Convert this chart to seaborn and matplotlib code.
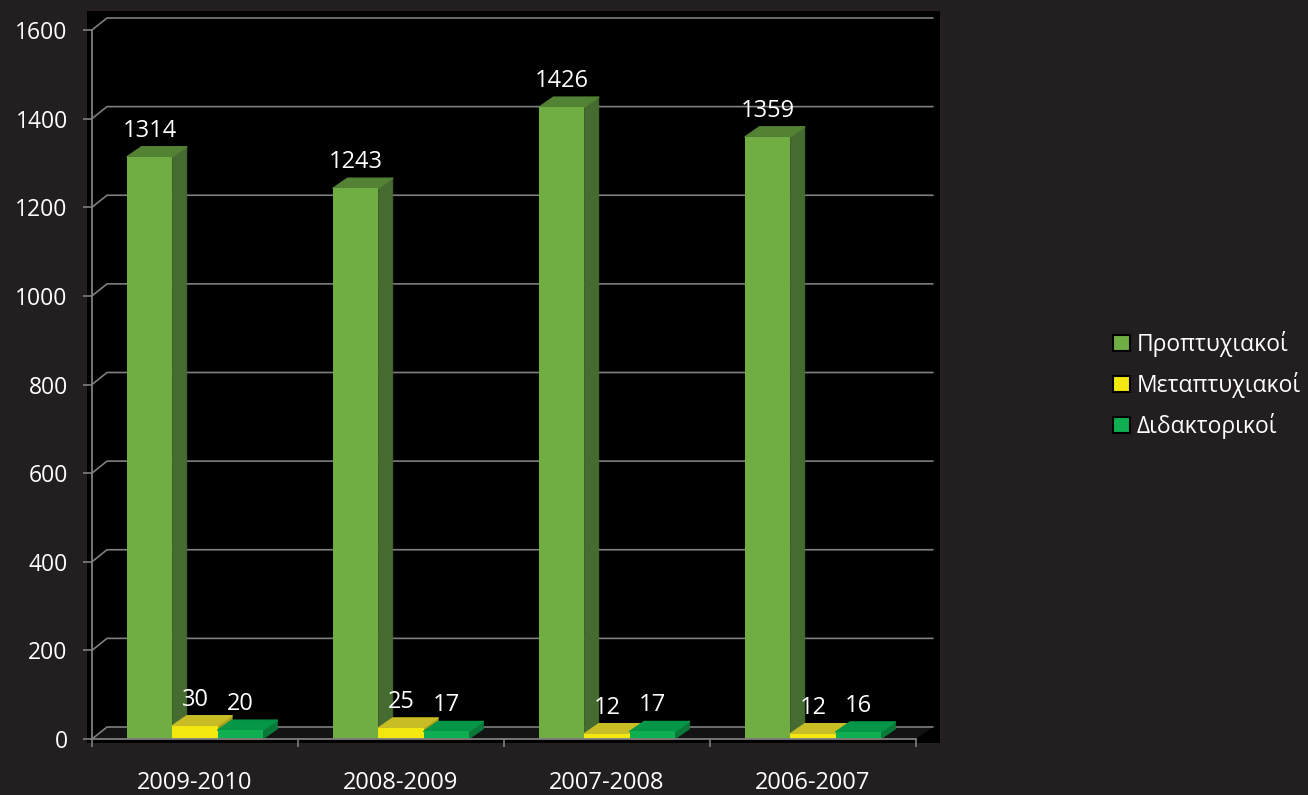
import matplotlib
matplotlib.use("Agg")
import matplotlib.pyplot as plt
import pandas as pd
import seaborn as sns
from matplotlib.patches import Polygon, Rectangle

years = ["2009-2010", "2008-2009", "2007-2008", "2006-2007"]
undergraduate = [1314, 1243, 1426, 1359]
postgraduate = [30, 25, 12, 12]
doctoral = [20, 17, 17, 16]
levels = ["Προπτυχιακοί", "Μεταπτυχιακοί", "Διδακτορικοί"]
yticks = [0, 200, 400, 600, 800, 1000, 1200, 1400, 1600]

BG = "#231f20"
GRID = "#7f7f7f"
front = ["#70ad42", "#f2e70f", "#0fae50"]
topc = ["#548235", "#c9bd26", "#059647"]
sidec = ["#466b31", "#a89e1c", "#0a7a3a"]

FONT = ["Open Sans", "DejaVu Sans"]
sns.set_theme(style="dark")
plt.rcParams["font.family"] = FONT

W, H = 1308, 795
fig = plt.figure(figsize=(W / 100, H / 100), dpi=100, facecolor=BG)
fig.add_artist(Rectangle((87 / W, 1 - 743 / H), 853 / W, 732 / H, transform=fig.transFigure,
                         facecolor="black", edgecolor="none", zorder=-5))
ax = fig.add_axes([92 / W, 1 - 739 / H, 824 / W, 709 / H])
ax.patch.set_alpha(0)

df = pd.DataFrame({
    "year": years * 3,
    "level": [l for l in levels for _ in years],
    "value": undergraduate + postgraduate + doctoral,
})
sns.barplot(data=df, x="year", y="value", hue="level", hue_order=levels, order=years,
            palette=front, saturation=1, width=0.66, gap=0, ax=ax, zorder=3, linewidth=0)

ax.set_xlim(-0.5, 3.5)
ax.set_ylim(0, 1600)

# depth of the pseudo-3D projection, in data units
unit_x = 206.0
unit_y = 709.0 / 1600
wall_dx, wall_dy = 15 / unit_x, 12 / unit_y
end_dx = 17 / unit_x
bar_dx, bar_dy = 14.5 / unit_x, 10 / unit_y

# floor
ax.add_patch(Polygon([(-0.5, 0), (-0.5 + wall_dx, wall_dy), (3.5 + end_dx, wall_dy), (3.5, 0)],
                     closed=True, facecolor="#131313", edgecolor="none", zorder=0, clip_on=False))
# back wall grid lines
for v in yticks:
    ax.plot([-0.5, -0.5 + wall_dx, 3.5 + end_dx], [v, v + wall_dy, v + wall_dy],
            color=GRID, lw=1.2, zorder=1, clip_on=False, solid_joinstyle="round")

# extruded faces and data labels
bars = []
for c_i, cont in enumerate(ax.containers):
    for r in cont.patches:
        bars.append((r.get_x(), r, c_i))
bars.sort(key=lambda t: t[0])
for n, (x0, r, c_i) in enumerate(bars):
    w, h = r.get_width(), r.get_height()
    z = 3 + n * 0.01
    ax.add_patch(Polygon([(x0 + w, 0), (x0 + w + bar_dx, bar_dy), (x0 + w + bar_dx, h + bar_dy), (x0 + w, h)],
                         closed=True, facecolor=sidec[c_i], edgecolor=sidec[c_i], lw=0.5,
                         joinstyle="round", zorder=z, clip_on=False))
    ax.add_patch(Polygon([(x0, h), (x0 + bar_dx, h + bar_dy), (x0 + w + bar_dx, h + bar_dy), (x0 + w, h)],
                         closed=True, facecolor=topc[c_i], edgecolor=topc[c_i], lw=1.0,
                         joinstyle="round", zorder=z, clip_on=False))
    r.set_zorder(z + 0.001)
    r.set_clip_on(False)
    ax.annotate(f"{int(h)}", (x0 + w / 2, h + bar_dy), xytext=(0, 11.5), textcoords="offset points",
                ha="center", va="center", color="white", fontsize=17, zorder=20, annotation_clip=False)

# axes
ax.set_xlabel("")
ax.set_ylabel("")
ax.grid(False)
for s in ["top", "right"]:
    ax.spines[s].set_visible(False)
for s in ["left", "bottom"]:
    ax.spines[s].set_color(GRID)
    ax.spines[s].set_linewidth(1.3)
    ax.spines[s].set_zorder(10)
ax.set_yticks(yticks)
ax.set_xticks(range(len(years)))
ax.set_xticklabels(years)
ax.set_xticks([i - 0.5 for i in range(len(years) + 1)], minor=True)
ax.tick_params(axis="x", which="major", length=0, pad=23, labelcolor="white", labelsize=17)
ax.tick_params(axis="x", which="minor", length=6, width=1.2, color=GRID, bottom=True)
ax.tick_params(axis="y", which="major", length=6.5, width=1.2, color=GRID, pad=11,
               labelcolor="white", labelsize=16.5, left=True)

# legend
handles = [Rectangle((0, 0), 1, 1, facecolor=c, edgecolor="black", lw=1.5) for c in front]
old = ax.get_legend()
if old is not None:
    old.remove()
fig.legend(handles, levels, loc="center left", bbox_to_anchor=(1113 / W, 1 - 385 / H),
           frameon=False, labelcolor="white", fontsize=16.5, handlelength=0.74, handleheight=0.74,
           handletextpad=0.3, labelspacing=0.657, borderpad=0, borderaxespad=0)

fig.savefig("out.png", dpi=100, facecolor=BG)
